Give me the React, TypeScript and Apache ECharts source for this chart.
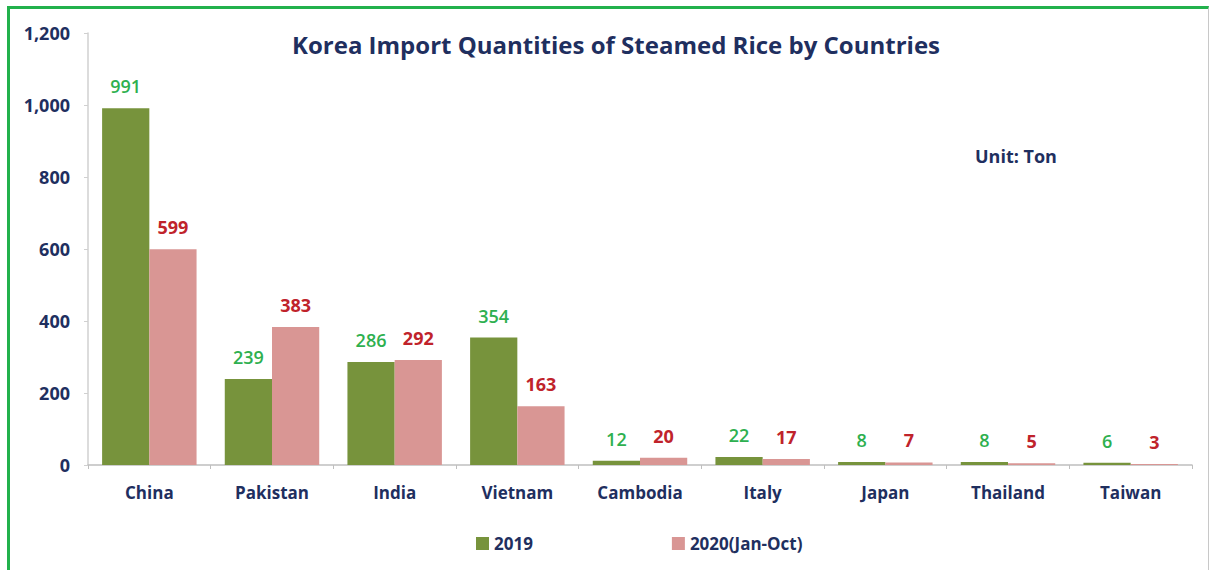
import React, { useEffect, useRef } from "react";
import * as echarts from "echarts";

const categories = ["China", "Pakistan", "India", "Vietnam", "Cambodia", "Italy", "Japan", "Thailand", "Taiwan"];
const values2019 = [991, 239, 286, 354, 12, 22, 8, 8, 6];
const values2020 = [599, 383, 292, 163, 20, 17, 7, 5, 3];
const seriesNames = ["2019", "2020(Jan-Oct)"];
const titleText = "Korea Import Quantities of Steamed Rice by Countries";
const unitText = "Unit: Ton";

const FONT = "'Open Sans', sans-serif";
const NAVY = "#1F2F5F";

export default function App() {
  const ref = useRef<HTMLDivElement>(null);
  useEffect(() => {
    if (!ref.current) return;
    const chart = echarts.init(ref.current, null, { renderer: "svg" });
    chart.setOption({
      animation: false,
      backgroundColor: "#ffffff",
      textStyle: { fontFamily: FONT },
      title: {
        text: titleText,
        left: 611,
        textAlign: "center",
        top: 27,
        textStyle: { fontFamily: FONT, fontSize: 24, fontWeight: "bold", color: NAVY },
      },
      graphic: [
        {
          type: "text",
          left: 975,
          top: 147,
          style: { text: unitText, fontFamily: FONT, fontSize: 18, fontWeight: "bold", fill: NAVY },
        },
      ],
      legend: {
        left: 471,
        top: 530,
        itemWidth: 13,
        itemHeight: 13,
        itemGap: 139,
        itemTextGap: 4,
        icon: "rect",
        textStyle: { fontFamily: FONT, fontSize: 17, fontWeight: "bold", color: NAVY },
        data: seriesNames,
      },
      grid: { left: 88, right: 20, top: 33, bottom: 105, containLabel: false },
      xAxis: {
        type: "category",
        data: categories,
        axisLine: { lineStyle: { color: "#BFBFBF", width: 1.5 } },
        axisTick: { show: true, alignWithLabel: false, length: 4, lineStyle: { color: "#BFBFBF" } },
        axisLabel: { margin: 19, fontFamily: FONT, fontSize: 17, fontWeight: "bold", color: NAVY },
      },
      yAxis: {
        type: "value",
        min: 0,
        max: 1200,
        interval: 200,
        splitLine: { show: false },
        axisLine: { show: true, lineStyle: { color: "#D0D0D0", width: 1.5 } },
        axisTick: { show: true, length: 4, lineStyle: { color: "#D0D0D0" } },
        axisLabel: {
          margin: 18,
          fontFamily: FONT,
          fontSize: 18,
          fontWeight: "bold",
          color: NAVY,
          formatter: (v: number) => v.toLocaleString("en-US"),
        },
      },
      series: [
        {
          name: seriesNames[0],
          type: "bar",
          data: values2019,
          barGap: "0%",
          barCategoryGap: "23%",
          itemStyle: { color: "#77933C" },
          label: {
            show: true,
            position: "top",
            distance: 13,
            fontFamily: FONT,
            fontSize: 18,
            fontWeight: "600",
            color: "#2EB04F",
          },
        },
        {
          name: seriesNames[1],
          type: "bar",
          data: values2020,
          barGap: "0%",
          barCategoryGap: "23%",
          itemStyle: { color: "#D99694" },
          label: {
            show: true,
            position: "top",
            distance: 13,
            fontFamily: FONT,
            fontSize: 18,
            fontWeight: "bold",
            color: "#C0232B",
          },
        },
      ],
    });
    return () => chart.dispose();
  }, []);

  return (
    <div style={{ position: "absolute", left: 0, top: 0, width: 1212, height: 570, background: "#fff" }}>
      <div ref={ref} style={{ position: "absolute", left: 0, top: 0, width: 1212, height: 570 }} />
      <div
        style={{
          position: "absolute",
          left: 7,
          top: 6,
          width: 1202,
          height: 580,
          borderLeft: "3px solid #22B14C",
          borderTop: "3px solid #22B14C",
          borderRight: "1px solid #C8C8C8",
          pointerEvents: "none",
          boxSizing: "border-box",
        }}
      />
    </div>
  );
}
